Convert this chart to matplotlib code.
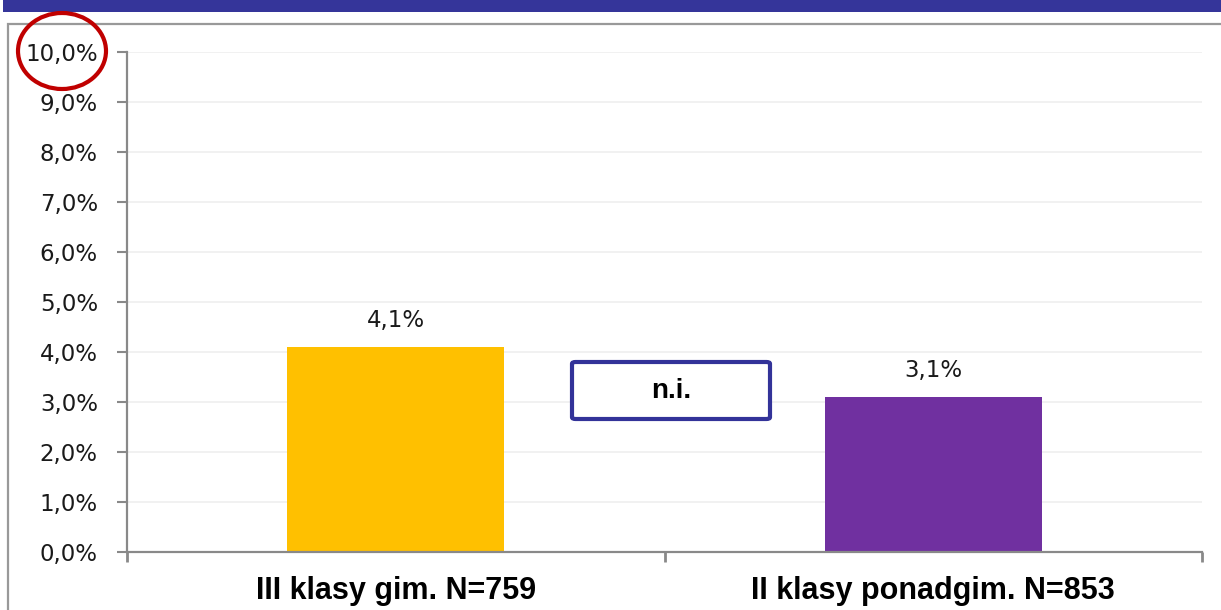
import matplotlib
matplotlib.use("Agg")
import matplotlib.pyplot as plt
from matplotlib.patches import Rectangle, Ellipse, FancyBboxPatch
from matplotlib.ticker import FixedLocator

categories = ["III klasy gim. N=759", "II klasy ponadgim. N=853"]
values = [4.1, 3.1]
value_labels = ["4,1%", "3,1%"]
colors = ["#FFC000", "#7030A0"]
yticks = [0, 1, 2, 3, 4, 5, 6, 7, 8, 9, 10]
ytick_labels = ["0,0%", "1,0%", "2,0%", "3,0%", "4,0%", "5,0%", "6,0%", "7,0%", "8,0%", "9,0%", "10,0%"]
note = "n.i."

W, H = 1221, 610
fig = plt.figure(figsize=(W / 100, H / 100), dpi=100)

def fx(px):
    return px / W

def fy(py):
    return 1 - py / H

# banner
fig.patches.append(Rectangle((fx(3), fy(12)), 1, 12 / H, transform=fig.transFigure,
                             facecolor="#35359A", edgecolor="none", zorder=-2))
# frame
fig.patches.append(Rectangle((fx(8), fy(640)), 1.2, (640 - 24) / H, transform=fig.transFigure,
                             facecolor="none", edgecolor="#999999", linewidth=1.6, zorder=-1))

ax = fig.add_axes([fx(127), fy(552), fx(1202) - fx(127), fy(52) - fy(552)])
ax.set_facecolor("none")
x = list(range(len(categories)))
ax.bar(x, values, width=0.404, color=colors, zorder=2)
for xi, v, lab in zip(x, values, value_labels):
    ax.annotate(lab, (xi, v), xytext=(0, 15), textcoords="offset pixels",
                ha="center", va="bottom", fontsize=16.5, color="#1a1a1a",
                family="DejaVu Sans")

ax.set_xlim(-0.5, len(categories) - 0.5)
ax.set_ylim(0, 10)
ax.set_yticks(yticks)
ax.set_yticklabels(ytick_labels, fontsize=16.5, color="#1a1a1a", family="DejaVu Sans")
ax.yaxis.grid(True, color="#EFEFEF", linewidth=1.2, zorder=0)
ax.set_axisbelow(True)
ax.set_xticks(x)
ax.set_xticklabels(categories, fontsize=22, fontweight="bold", family="Liberation Sans")
ax.tick_params(axis="x", length=0, pad=17)
ax.xaxis.set_minor_locator(FixedLocator([-0.5 + i for i in range(len(categories) + 1)]))
ax.tick_params(axis="x", which="minor", length=7, width=2, color="#898989")
ax.tick_params(axis="y", length=7, width=1.5, color="#898989", pad=14)
for s in ["top", "right"]:
    ax.spines[s].set_visible(False)
for s in ["left", "bottom"]:
    ax.spines[s].set_color("#898989")
    ax.spines[s].set_linewidth(1.6)
    ax.spines[s].set_zorder(3)

# n.i. box
bx0, by0, bx1, by1 = 572, 362, 770, 419
fig.patches.append(FancyBboxPatch((fx(bx0), fy(by1)), fx(bx1) - fx(bx0), fy(by0) - fy(by1),
                                  boxstyle="round,pad=0,rounding_size=0.003",
                                  transform=fig.transFigure, facecolor="white",
                                  edgecolor="#333399", linewidth=3, zorder=5))
fig.text(fx((bx0 + bx1) / 2), fy((by0 + by1) / 2), note, ha="center", va="center",
         fontsize=20, fontweight="bold", family="Liberation Sans", zorder=6)

# red circle highlight
fig.patches.append(Ellipse((fx(62), fy(51)), 88 / W, 76 / H, transform=fig.transFigure,
                           facecolor="none", edgecolor="#C00000", linewidth=3, zorder=7))

fig.savefig("out.png", dpi=100)
